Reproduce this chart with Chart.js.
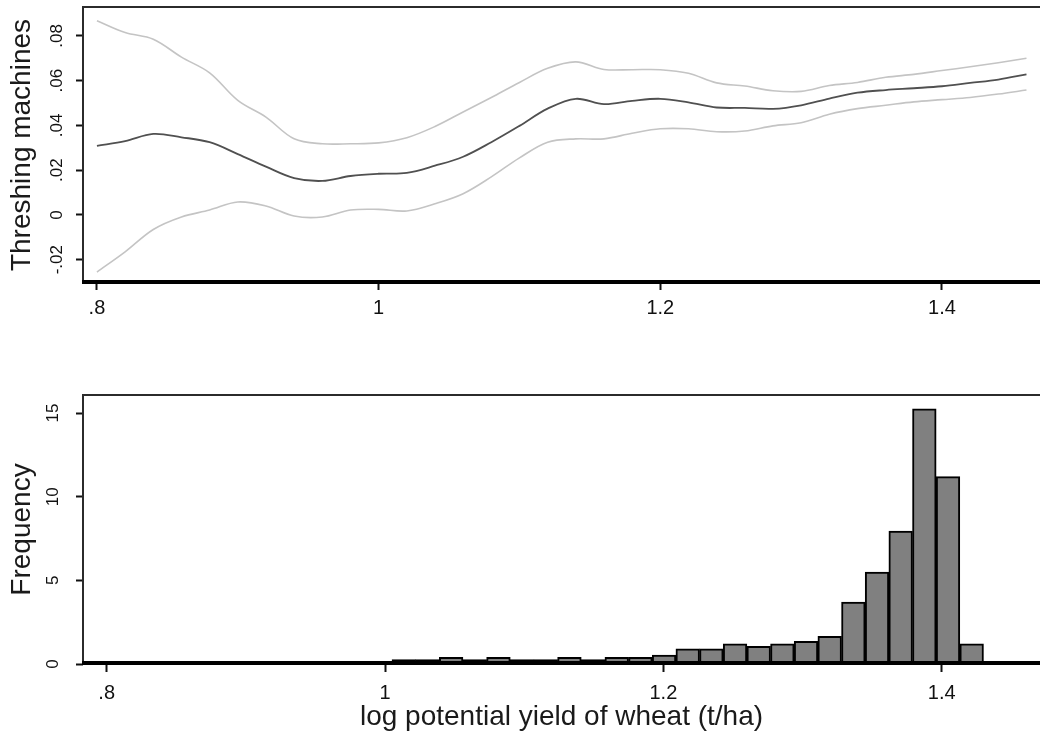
<!DOCTYPE html>
<html>
<head>
<meta charset="utf-8">
<script src="https://cdn.jsdelivr.net/npm/chart.js@4.4.1/dist/chart.umd.min.js"></script>
<style>
  html, body { margin: 0; padding: 0; background: #fff; overflow: hidden; }
  #topChart { position: absolute; left: 0; top: 0; }
  #histChart { position: absolute; left: 0; top: 340px; }
</style>
</head>
<body>
<canvas id="topChart" width="1040" height="340"></canvas>
<canvas id="histChart" width="1040" height="397"></canvas>
<script>
// log potential yield grid and local fit (top panel)
const yieldGrid = [0.80, 0.82, 0.84, 0.86, 0.88, 0.90, 0.92, 0.94, 0.96, 0.98, 1.00, 1.02, 1.04, 1.06, 1.08, 1.10, 1.12, 1.14, 1.16, 1.18, 1.20, 1.22, 1.24, 1.26, 1.28, 1.30, 1.32, 1.34, 1.36, 1.38, 1.40, 1.42, 1.44, 1.46];
const fitLine = [0.0309, 0.033, 0.0362, 0.0347, 0.0325, 0.0272, 0.0216, 0.0165, 0.0152, 0.0174, 0.0184, 0.0188, 0.022, 0.026, 0.0325, 0.0398, 0.0475, 0.0519, 0.0495, 0.051, 0.0519, 0.0503, 0.048, 0.0478, 0.0474, 0.049, 0.052, 0.0546, 0.0558, 0.0566, 0.0575, 0.059, 0.0605, 0.0628];
const upperCI = [0.0868, 0.0815, 0.0785, 0.0705, 0.0635, 0.0512, 0.0437, 0.034, 0.0318, 0.0318, 0.0322, 0.0345, 0.0395, 0.046, 0.0525, 0.0592, 0.0655, 0.0684, 0.065, 0.0649, 0.0649, 0.0633, 0.059, 0.0576, 0.0555, 0.0552, 0.0578, 0.0592, 0.0615, 0.0628, 0.0645, 0.0662, 0.068, 0.07];
const lowerCI = [-0.0255, -0.0165, -0.0065, -0.0009, 0.0022, 0.0058, 0.004, -0.0005, -0.0009, 0.0022, 0.0025, 0.0018, 0.005, 0.0095, 0.017, 0.0255, 0.0325, 0.034, 0.034, 0.0365, 0.0385, 0.0385, 0.0372, 0.0375, 0.0398, 0.0412, 0.045, 0.0475, 0.049, 0.0505, 0.0515, 0.0525, 0.054, 0.0558];

// histogram (bottom panel)
const binCenters = [1.0135, 1.0305, 1.0475, 1.0645, 1.0815, 1.0985, 1.1155, 1.1325, 1.1495, 1.1665, 1.1835, 1.2005, 1.2175, 1.2345, 1.2515, 1.2685, 1.2855, 1.3025, 1.3195, 1.3365, 1.3535, 1.3705, 1.3875, 1.4045, 1.4215];
const binFreq = [0.27, 0.27, 0.4, 0.27, 0.4, 0.27, 0.27, 0.4, 0.27, 0.4, 0.4, 0.54, 0.9, 0.9, 1.2, 1.05, 1.2, 1.35, 1.65, 3.7, 5.5, 7.95, 15.25, 11.2, 1.2];

const xTicks = [0.8, 1, 1.2, 1.4];
const xLabels = [".8", "1", "1.2", "1.4"];
const topYTicks = [-0.02, 0, 0.02, 0.04, 0.06, 0.08];
const topYLabels = ["-.02", "0", ".02", ".04", ".06", ".08"];
const histYTicks = [0, 5, 10, 15];
const histYLabels = ["0", "5", "10", "15"];

const FONT = "'Liberation Sans', Arial, sans-serif";

// box round the plot area: thin left/top, heavy bottom axis
const frame = {
  id: "frame",
  afterDraw(chart) {
    const { ctx, chartArea: a } = chart;
    ctx.save();
    ctx.strokeStyle = "#2b2b2b";
    ctx.lineWidth = 2;
    ctx.beginPath();
    ctx.moveTo(a.left, a.bottom);
    ctx.lineTo(a.left, a.top);
    ctx.lineTo(a.right, a.top);
    ctx.stroke();
    ctx.strokeStyle = "#000";
    ctx.lineWidth = 4;
    ctx.beginPath();
    ctx.moveTo(a.left - 1, a.bottom - 1);
    ctx.lineTo(a.right, a.bottom - 1);
    ctx.stroke();
    ctx.restore();
  },
};

function xAxis(min, max, height, tickLen, pad, title) {
  return {
    type: "linear",
    min,
    max,
    offset: false,
    afterBuildTicks: (s) => { s.ticks = xTicks.map((v) => ({ value: v })); },
    afterFit: (s) => { s.height = height; s.paddingLeft = 0; s.paddingRight = 0; },
    border: { display: false },
    grid: { offset: false, drawOnChartArea: false, drawTicks: true, tickLength: tickLen, tickWidth: 2, tickColor: "#111" },
    ticks: { autoSkip: false, maxRotation: 0, padding: pad, color: "#111", font: { family: FONT, size: 20 }, callback: (v, i) => xLabels[i] },
    title: title
      ? { display: true, text: title, color: "#1a1a1a", font: { family: FONT, size: 28 }, padding: { top: 0, bottom: 3 } }
      : { display: false },
  };
}

function yAxis(min, max, vals, labels, pad, title) {
  return {
    min,
    max,
    afterBuildTicks: (s) => { s.ticks = vals.map((v) => ({ value: v })); },
    afterFit: (s) => { s.width = 83; s.paddingTop = 0; s.paddingBottom = 0; },
    border: { display: false },
    grid: { drawOnChartArea: false, drawTicks: true, tickLength: 7, tickWidth: 2, tickColor: "#111" },
    ticks: { minRotation: 90, maxRotation: 90, crossAlign: "center", padding: pad, color: "#111", font: { family: FONT, size: 17 }, callback: (v, i) => labels[i] },
    title: { display: true, text: title, color: "#1a1a1a", font: { family: FONT, size: 28 }, padding: { top: 5, bottom: 0 } },
  };
}

const pts = (ys) => yieldGrid.map((x, i) => ({ x, y: ys[i] }));

new Chart(document.getElementById("topChart"), {
  type: "line",
  data: {
    datasets: [
      { data: pts(upperCI), borderColor: "#c4c4c4", borderWidth: 1.6 },
      { data: pts(lowerCI), borderColor: "#c4c4c4", borderWidth: 1.6 },
      { data: pts(fitLine), borderColor: "#505050", borderWidth: 1.8 },
    ],
  },
  options: {
    responsive: false,
    animation: false,
    elements: { point: { radius: 0 }, line: { tension: 0.35, fill: false } },
    layout: { padding: { top: 7, right: 0, bottom: 0, left: 0 } },
    plugins: { legend: { display: false }, tooltip: { enabled: false } },
    scales: {
      x: xAxis(0.7901, 1.4696, 57, 7, 6, null),
      y: yAxis(-0.0304, 0.0929, topYTicks, topYLabels, 4, "Threshing machines"),
    },
  },
  plugins: [frame],
});

new Chart(document.getElementById("histChart"), {
  type: "bar",
  data: {
    datasets: [
      {
        data: binCenters.map((x, i) => ({ x, y: binFreq[i] })),
        backgroundColor: "#808080",
        borderColor: "#000",
        borderWidth: 2,
        barPercentage: 1,
        categoryPercentage: 1,
      },
    ],
  },
  options: {
    responsive: false,
    animation: false,
    layout: { padding: { top: 55, right: 0, bottom: 0, left: 0 } },
    plugins: { legend: { display: false }, tooltip: { enabled: false } },
    scales: {
      x: xAxis(0.783, 1.4706, 73, 8, 9, "log potential yield of wheat (t/ha)"),
      y: yAxis(0, 16.08, histYTicks, histYLabels, 13, "Frequency"),
    },
  },
  plugins: [frame],
});
</script>
</body>
</html>
